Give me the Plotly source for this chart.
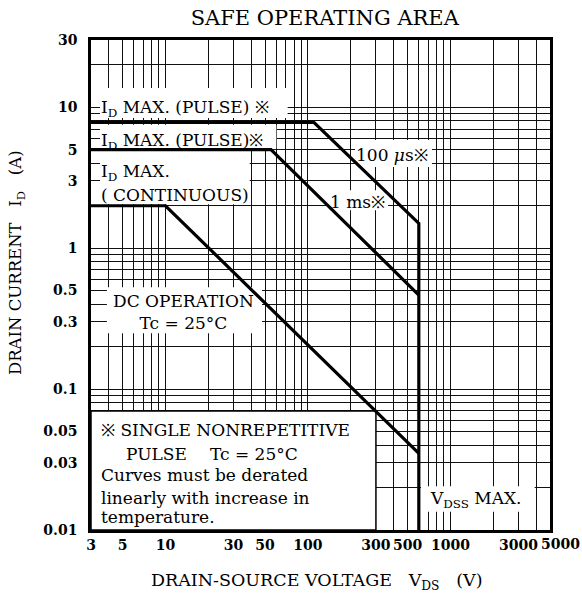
import math
import plotly.graph_objects as go

# ---- data ----
pulse100_v = [3, 110, 600, 600]
pulse100_i = [7.8, 7.8, 1.5, 0.01]
pulse1ms_v = [3, 55, 600]
pulse1ms_i = [5, 5, 0.465]
dc_v = [3, 10, 600]
dc_i = [2, 2, 0.035]

x_labels = [3, 5, 10, 30, 50, 100, 300, 500, 1000, 3000, 5000]
y_labels = [0.01, 0.03, 0.05, 0.1, 0.3, 0.5, 1, 3, 5, 10, 30]

x_grid = [m * 10 ** e for e in range(0, 4) for m in range(1, 10) if 3 <= m * 10 ** e <= 5000]
y_grid = [round(m * 10.0 ** e, 4) for e in range(-2, 2) for m in range(1, 10) if m * 10.0 ** e <= 30]

NB = "\u00a0"
LAST_X = x_labels[-1]  # drawn slightly right of the border, as in the reference

x_text = [("%g" % v) if (v in x_labels and v != LAST_X) else " " for v in x_grid]
y_text = [("%g" % v) if any(abs(v - l) < 1e-9 for l in y_labels) else " " for v in y_grid]

SERIF = "DejaVu Serif, serif"
LW = 3.2
TICKFONT = dict(family=SERIF, size=14, color="black", weight="bold")

fig = go.Figure()
for xs, ys in [(pulse100_v, pulse100_i), (pulse1ms_v, pulse1ms_i), (dc_v, dc_i)]:
    fig.add_trace(go.Scatter(x=xs, y=ys, mode="lines",
                             line=dict(color="black", width=LW),
                             showlegend=False, hoverinfo="skip"))

# white label boxes hiding the grid (between grid and curves)
boxes = [
    (3.47, 72, 8.4, 13.7, False),
    (3.47, 60, 5.1, 7.5, False),
    (3.47, 39, 2.05, 4.9, False),
    (3.88, 47.6, 0.249, 0.527, False),
    (3, 300, 0.01, 0.07, True),
    (621, 3900, 0.0135, 0.0204, False),
    (214, 742, 3.76, 5.85, False),
    (138, 365, 1.86, 2.58, False),
]
for x0, x1, y0, y1, border in boxes:
    fig.add_shape(type="rect", xref="x", yref="y", x0=x0, x1=x1, y0=y0, y1=y1,
                  fillcolor="white",
                  line=dict(color="black" if border else "white", width=1.5 if border else 0),
                  layer="between")

L = math.log10
tf = dict(family=SERIF, size=17, color="black")
ann = [
    (3.42, 9.8, "I<sub>D</sub> MAX. (PULSE) ※", "left"),
    (3.42, 5.75, "I<sub>D</sub> MAX. (PULSE)※", "left"),
    (3.42, 3.46, "I<sub>D</sub> MAX.", "left"),
    (3.42, 2.38, "( CONTINUOUS)", "left"),
    (13.4, 0.355, "DC OPERATION<br>Tc = 25°C", "center"),
    (389, 4.61, "100 <i>μ</i>s※", "center"),
    (221, 2.12, "1 ms※", "center"),
    (1511, 0.0165, "V<sub>DSS</sub> MAX.", "center"),
    (3.42, 0.0509, "※ SINGLE NONREPETITIVE", "left"),
    (5.1, 0.0347, "PULSE", "left"),
    (19.8, 0.0347, "Tc = 25°C", "left"),
    (3.42, 0.0244, "Curves must be derated", "left"),
    (3.42, 0.0170, "linearly with increase in", "left"),
    (3.42, 0.01228, "temperature.", "left"),
]
for x, y, t, al in ann:
    fig.add_annotation(x=L(x), y=L(y), text=t, showarrow=False, font=tf,
                       xanchor=al if al == "left" else "center", align=al,
                       yanchor="middle")

# last x tick label, nudged right of the plot border
fig.add_annotation(xref="paper", yref="paper", x=1.0218, y=-0.0286, xanchor="center",
                   yanchor="middle", text="%g" % LAST_X, showarrow=False, font=TICKFONT)

# axis titles
fig.add_annotation(xref="paper", yref="paper", x=0.492, y=-0.106, yanchor="middle",
                   xanchor="center",
                   text="DRAIN-SOURCE VOLTAGE" + NB * 3 + "V<sub>DS</sub>" + NB * 3 + "(V)",
                   showarrow=False, font=dict(family=SERIF, size=17.5, color="black"))
fig.add_annotation(xref="paper", yref="paper", x=-0.161, y=0.545, xanchor="center", yanchor="middle",
                   textangle=-90,
                   text="DRAIN CURRENT" + NB * 3 + "I<sub>D</sub>" + NB * 3 + "(A)",
                   showarrow=False, font=dict(family=SERIF, size=16.5, color="black"))

fig.update_layout(
    width=582, height=598,
    margin=dict(l=91, r=32, t=40, b=68, autoexpand=False),
    paper_bgcolor="white", plot_bgcolor="white",
    title=dict(text="SAFE OPERATING AREA", x=0.558, xanchor="center", y=0.97, yanchor="middle",
               font=dict(family=SERIF, size=21, color="black")),
    font=dict(family=SERIF, color="black"),
)
fig.update_xaxes(type="log", range=[L(3), L(5000)], automargin=False,
                 tickvals=x_grid, ticktext=x_text, ticks="", tickangle=0,
                 tickfont=TICKFONT, ticklabelstandoff=0,
                 showgrid=True, gridcolor="#111", gridwidth=1,
                 showline=True, linecolor="black", linewidth=2.5, mirror=True,
                 zeroline=False)
fig.update_yaxes(type="log", range=[L(0.01), L(30)], automargin=False,
                 tickvals=y_grid, ticktext=y_text, ticks="",
                 tickfont=TICKFONT, ticklabelstandoff=8,
                 showgrid=True, gridcolor="#111", gridwidth=1,
                 showline=True, linecolor="black", linewidth=2.5, mirror=True,
                 zeroline=False)

fig.write_html("out.html", config={"displayModeBar": False},
               post_script="document.body.style.margin='0px';")
